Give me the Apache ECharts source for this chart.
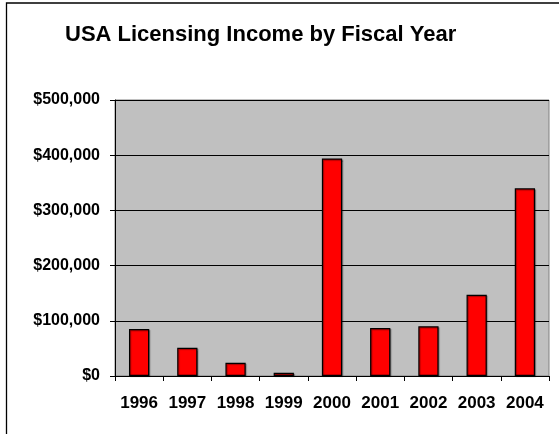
<!DOCTYPE html>
<html>
<head>
<meta charset="utf-8">
<script src="https://cdn.jsdelivr.net/npm/echarts@6/dist/echarts.min.js"></script>
<style>
html,body{margin:0;padding:0;background:#fff;}
#chart{width:559px;height:434px;}
</style>
</head>
<body>
<div id="chart"></div>
<script>
const titleText = 'USA Licensing Income by Fiscal Year';
const years = ['1996','1997','1998','1999','2000','2001','2002','2003','2004'];
const income = [85000, 51000, 24000, 6000, 394000, 87000, 90000, 147000, 340000];
const yTicks = [0, 100000, 200000, 300000, 400000, 500000];

const FONT = '"Liberation Sans", Arial, sans-serif';
const chart = echarts.init(document.getElementById('chart'), null, {renderer: 'canvas'});

chart.setOption({
  backgroundColor: '#ffffff',
  animation: false,
  title: {
    text: titleText,
    left: 65,
    top: 24,
    padding: 0,
    textStyle: {fontFamily: FONT, fontSize: 22, fontWeight: 'bold', color: '#000'}
  },
  graphic: [{
    type: 'rect',
    shape: {x: 6.5, y: 3, width: 800, height: 800},
    style: {fill: 'none', stroke: '#000', lineWidth: 1.3},
    silent: true,
    z: 100
  }],
  grid: {
    left: 115, top: 100, right: 10, bottom: 58,
    show: true,
    backgroundColor: '#C0C0C0',
    borderColor: '#808080',
    borderWidth: 1
  },
  xAxis: {
    type: 'category',
    data: years,
    axisLine: {lineStyle: {color: '#000', width: 1}},
    axisTick: {show: true, alignWithLabel: false, length: 5, lineStyle: {color: '#000'}},
    axisLabel: {fontFamily: FONT, fontSize: 17, fontWeight: 'bold', color: '#000', margin: 19, interval: 0}
  },
  yAxis: {
    type: 'value',
    min: yTicks[0],
    max: yTicks[yTicks.length - 1],
    interval: yTicks[1] - yTicks[0],
    axisLine: {show: true, lineStyle: {color: '#000', width: 1}},
    axisTick: {show: true, length: 5, lineStyle: {color: '#000'}},
    splitLine: {show: true, lineStyle: {color: '#000', width: 1}},
    axisLabel: {
      fontFamily: FONT, fontSize: 16, fontWeight: 'bold', color: '#000', margin: 15,
      formatter: v => '$' + v.toLocaleString('en-US')
    }
  },
  series: [{
    type: 'bar',
    data: income,
    barWidth: '42%',
    itemStyle: {
      color: '#FF0000',
      borderColor: '#000',
      borderWidth: 1.2,
      shadowColor: 'rgba(0,0,0,0.35)',
      shadowOffsetX: 1,
      shadowOffsetY: 1,
      shadowBlur: 1
    }
  }]
});
</script>
</body>
</html>
